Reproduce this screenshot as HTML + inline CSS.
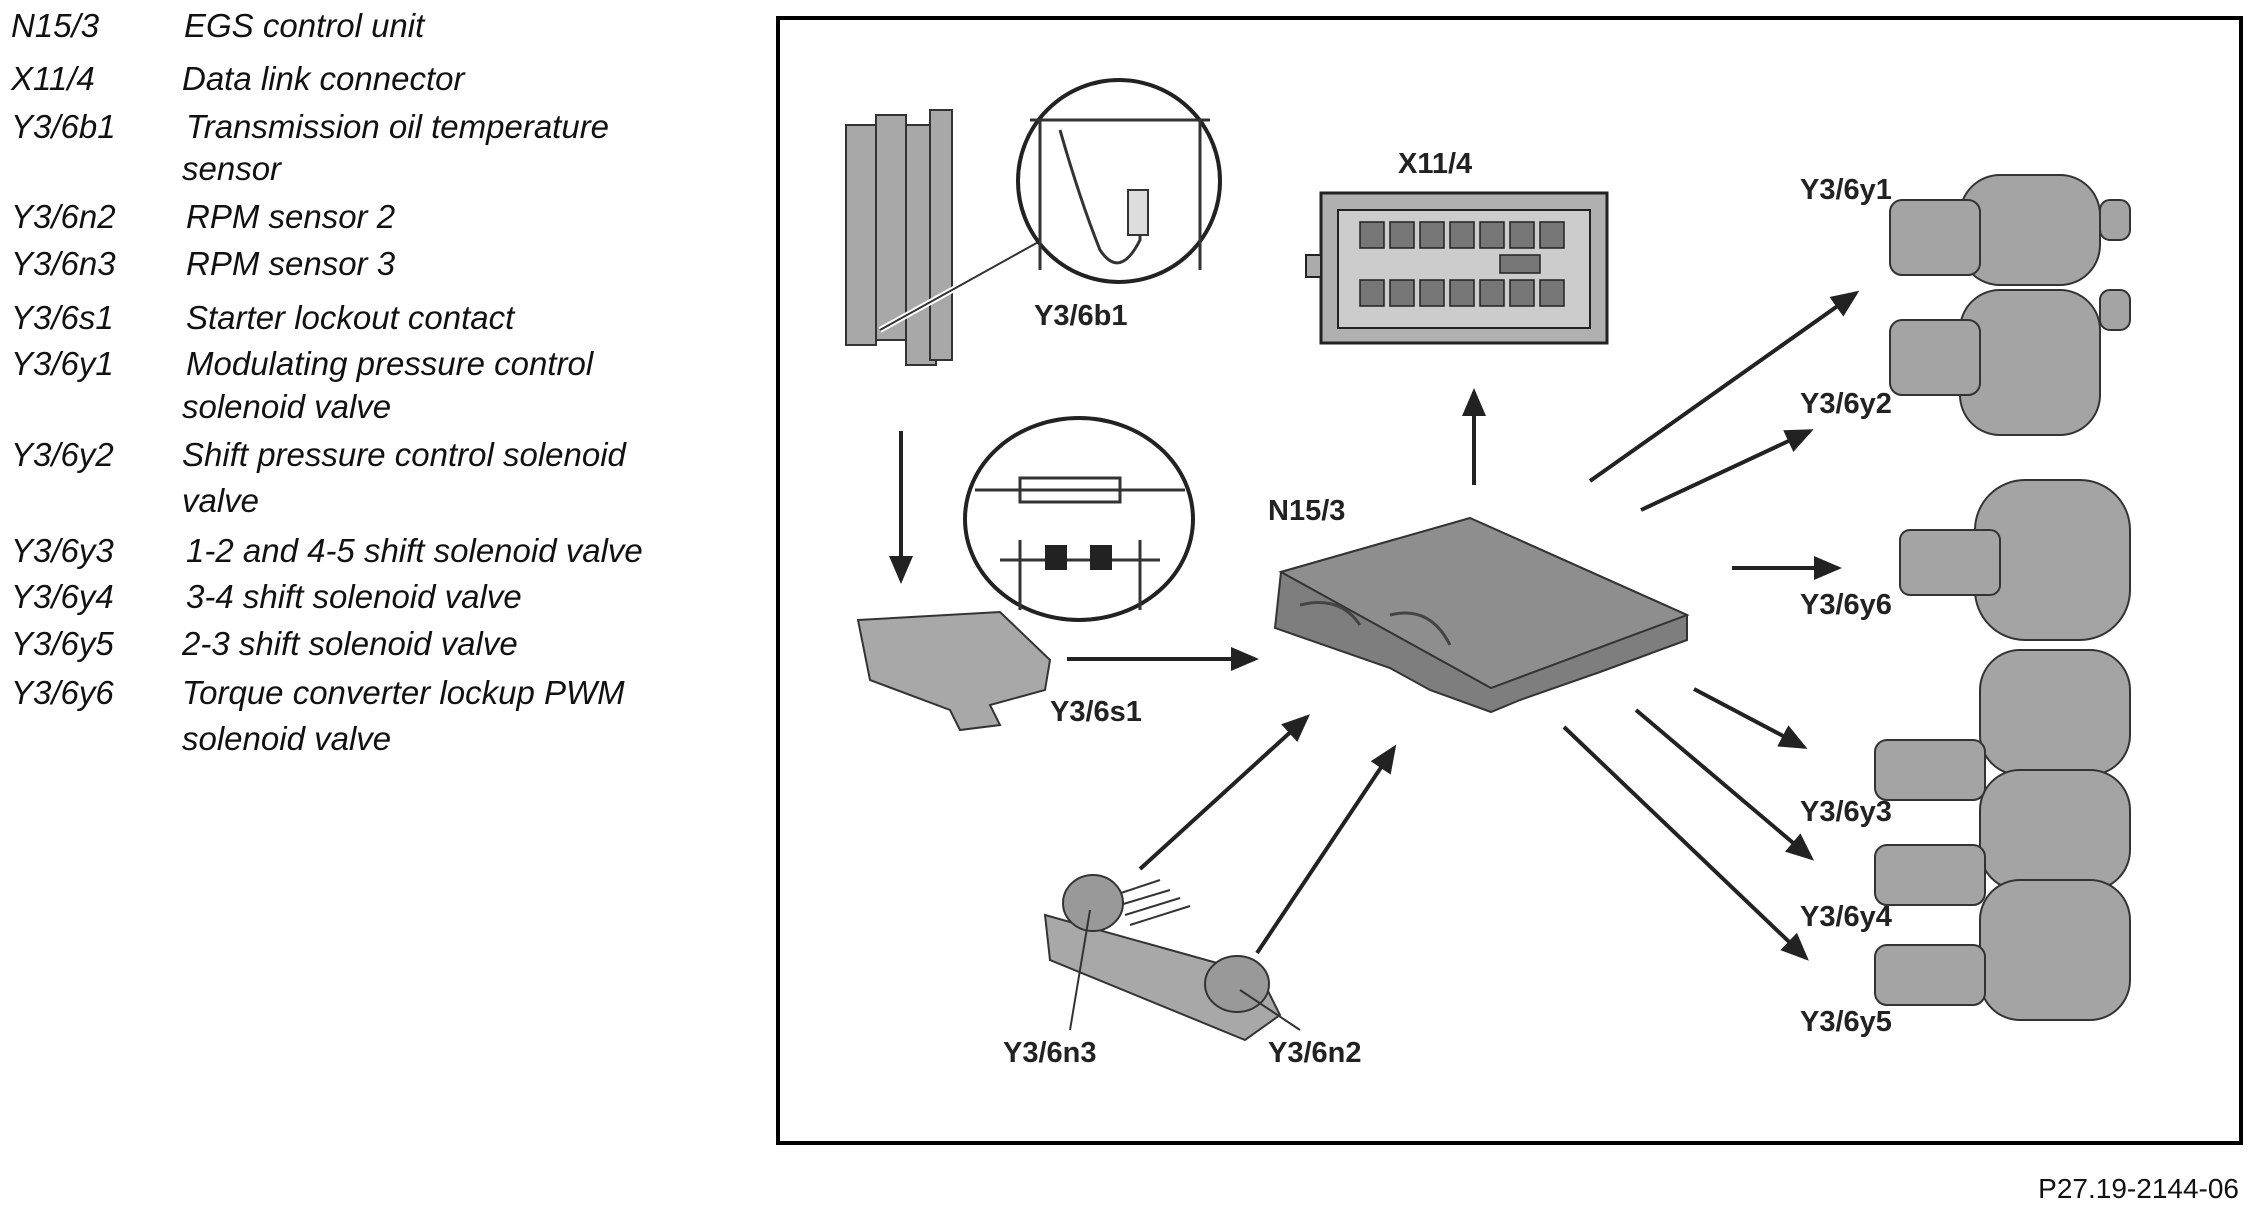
<!DOCTYPE html>
<html><head><meta charset="utf-8"><style>
html,body{margin:0;padding:0;background:#fff}
body{width:2259px;height:1203px;position:relative;overflow:hidden;font-family:"Liberation Sans",Arial,sans-serif}
.l{position:absolute;font-style:italic;font-size:33px;color:#111;white-space:nowrap;line-height:1}
</style></head><body>
<div class="l" style="left:11px;top:9px">N15/3</div><div class="l" style="left:184px;top:9px">EGS control unit</div>
<div class="l" style="left:11px;top:62px">X11/4</div><div class="l" style="left:182px;top:62px">Data link connector</div>
<div class="l" style="left:11px;top:110px">Y3/6b1</div><div class="l" style="left:186px;top:110px">Transmission oil temperature</div>
<div class="l" style="left:182px;top:152px">sensor</div>
<div class="l" style="left:11px;top:200px">Y3/6n2</div><div class="l" style="left:186px;top:200px">RPM sensor 2</div>
<div class="l" style="left:11px;top:247px">Y3/6n3</div><div class="l" style="left:186px;top:247px">RPM sensor 3</div>
<div class="l" style="left:11px;top:301px">Y3/6s1</div><div class="l" style="left:186px;top:301px">Starter lockout contact</div>
<div class="l" style="left:11px;top:347px">Y3/6y1</div><div class="l" style="left:186px;top:347px">Modulating pressure control</div>
<div class="l" style="left:182px;top:390px">solenoid valve</div>
<div class="l" style="left:11px;top:438px">Y3/6y2</div><div class="l" style="left:182px;top:438px">Shift pressure control solenoid</div>
<div class="l" style="left:182px;top:484px">valve</div>
<div class="l" style="left:11px;top:534px">Y3/6y3</div><div class="l" style="left:186px;top:534px">1-2 and 4-5 shift solenoid valve</div>
<div class="l" style="left:11px;top:580px">Y3/6y4</div><div class="l" style="left:186px;top:580px">3-4 shift solenoid valve</div>
<div class="l" style="left:11px;top:627px">Y3/6y5</div><div class="l" style="left:182px;top:627px">2-3 shift solenoid valve</div>
<div class="l" style="left:11px;top:676px">Y3/6y6</div><div class="l" style="left:182px;top:676px">Torque converter lockup PWM</div>
<div class="l" style="left:182px;top:722px">solenoid valve</div>
<div style="position:absolute;right:20px;top:1173px;font-size:28px;color:#111">P27.19-2144-06</div>

<svg width="2259" height="1203" style="position:absolute;left:0;top:0" xmlns="http://www.w3.org/2000/svg">
<defs><marker id="a" markerWidth="8" markerHeight="8" refX="6" refY="4" orient="auto" markerUnits="strokeWidth"><path d="M0,1 L7,4 L0,7 Z" fill="#222"/></marker></defs>
<rect x="778" y="18" width="1463" height="1125" fill="none" stroke="#000" stroke-width="4"/>
<g stroke="#222" stroke-width="4" fill="none" marker-end="url(#a)">
<line x1="901" y1="431" x2="901" y2="580"/>
<line x1="1067" y1="659" x2="1255" y2="659"/>
<line x1="1474" y1="485" x2="1474" y2="392"/>
<line x1="1590" y1="481" x2="1856" y2="293"/>
<line x1="1641" y1="510" x2="1810" y2="431"/>
<line x1="1732" y1="568" x2="1838" y2="568"/>
<line x1="1694" y1="689" x2="1804" y2="747"/>
<line x1="1636" y1="710" x2="1811" y2="858"/>
<line x1="1564" y1="727" x2="1806" y2="958"/>
<line x1="1140" y1="869" x2="1307" y2="717"/>
<line x1="1257" y1="953" x2="1394" y2="748"/>
</g>
<g stroke="#333" stroke-width="2" fill="#a8a8a8">
<rect x="846" y="125" width="30" height="220"/><rect x="876" y="115" width="30" height="225"/>
<rect x="906" y="125" width="30" height="240"/><rect x="930" y="110" width="22" height="250"/>
</g>
<line x1="880" y1="330" x2="1060" y2="230" stroke="#fff" stroke-width="6"/>
<line x1="880" y1="330" x2="1060" y2="230" stroke="#333" stroke-width="2"/>
<circle cx="1119" cy="181" r="101" fill="#fff" stroke="#222" stroke-width="4"/>
<path d="M1030 120 H1210 M1040 120 V270 M1200 120 V270 M1060 130 Q1080 200 1100 250 Q1120 280 1140 240 V200" stroke="#333" stroke-width="3" fill="none"/>
<rect x="1128" y="190" width="20" height="45" fill="#ddd" stroke="#333" stroke-width="2"/>
<ellipse cx="1079" cy="519" rx="114" ry="101" fill="#fff" stroke="#222" stroke-width="4"/>
<path d="M975 490 H1185 M1020 478 H1120 V502 H1020 Z M1020 540 V610 M1140 540 V610 M1000 560 H1160" stroke="#333" stroke-width="3" fill="none"/>
<rect x="1045" y="545" width="22" height="25" fill="#222"/><rect x="1090" y="545" width="22" height="25" fill="#222"/>
<path d="M858 620 L1000 612 L1050 660 L1045 690 L990 705 L1000 725 L960 730 L950 710 L870 680 Z" fill="#a8a8a8" stroke="#333" stroke-width="2"/>
<rect x="1321" y="193" width="286" height="150" fill="#b0b0b0" stroke="#222" stroke-width="3"/>
<rect x="1338" y="210" width="252" height="118" fill="#ccc" stroke="#222" stroke-width="2"/>
<g fill="#777" stroke="#222" stroke-width="1.5">
<rect x="1360" y="222" width="24" height="26"/><rect x="1390" y="222" width="24" height="26"/><rect x="1420" y="222" width="24" height="26"/><rect x="1450" y="222" width="24" height="26"/><rect x="1480" y="222" width="24" height="26"/><rect x="1510" y="222" width="24" height="26"/><rect x="1540" y="222" width="24" height="26"/>
<rect x="1360" y="280" width="24" height="26"/><rect x="1390" y="280" width="24" height="26"/><rect x="1420" y="280" width="24" height="26"/><rect x="1450" y="280" width="24" height="26"/><rect x="1480" y="280" width="24" height="26"/><rect x="1510" y="280" width="24" height="26"/><rect x="1540" y="280" width="24" height="26"/>
<rect x="1500" y="255" width="40" height="18"/></g>
<rect x="1306" y="255" width="15" height="22" fill="#aaa" stroke="#222" stroke-width="2"/>
<path d="M1281 572 L1470 518 L1687 615 L1687 640 L1600 672 L1520 700 L1491 712 L1430 690 L1390 668 L1275 628 Z" fill="#7e7e7e" stroke="#333" stroke-width="2"/>
<path d="M1281 572 L1470 518 L1687 615 L1491 688 Z" fill="#8e8e8e" stroke="#333" stroke-width="2"/>
<path d="M1300 605 Q1340 595 1360 625 M1390 615 Q1430 605 1450 645" stroke="#444" stroke-width="3" fill="none"/>
<path d="M1045 915 L1260 975 L1280 1015 L1245 1040 L1050 960 Z" fill="#a8a8a8" stroke="#333" stroke-width="2"/>
<g stroke="#333" stroke-width="2"><line x1="1115" y1="895" x2="1160" y2="880"/><line x1="1120" y1="905" x2="1170" y2="890"/><line x1="1125" y1="915" x2="1180" y2="898"/><line x1="1130" y1="925" x2="1190" y2="906"/></g>
<ellipse cx="1093" cy="903" rx="30" ry="28" fill="#999" stroke="#333" stroke-width="2"/>
<ellipse cx="1237" cy="984" rx="32" ry="28" fill="#999" stroke="#333" stroke-width="2"/>
<line x1="1070" y1="1030" x2="1090" y2="910" stroke="#333" stroke-width="2"/>
<line x1="1300" y1="1030" x2="1240" y2="990" stroke="#333" stroke-width="2"/>
<g fill="#a4a4a4" stroke="#333" stroke-width="2">
<rect x="1960" y="175" width="140" height="110" rx="40"/><rect x="1890" y="200" width="90" height="75" rx="12"/><rect x="2100" y="200" width="30" height="40" rx="10"/>
<rect x="1960" y="290" width="140" height="145" rx="40"/><rect x="1890" y="320" width="90" height="75" rx="12"/><rect x="2100" y="290" width="30" height="40" rx="10"/>
<rect x="1975" y="480" width="155" height="160" rx="50"/><rect x="1900" y="530" width="100" height="65" rx="10"/>
<rect x="1980" y="650" width="150" height="125" rx="40"/><rect x="1980" y="770" width="150" height="120" rx="40"/><rect x="1980" y="880" width="150" height="140" rx="40"/>
<rect x="1875" y="740" width="110" height="60" rx="12"/><rect x="1875" y="845" width="110" height="60" rx="12"/><rect x="1875" y="945" width="110" height="60" rx="12"/>
</g>
</svg>
<div style="position:absolute;font:bold 29px 'Liberation Sans',sans-serif;color:#222;line-height:1">
<div style="position:absolute;left:1398px;top:150px">X11/4</div>
<div style="position:absolute;left:1034px;top:302px">Y3/6b1</div>
<div style="position:absolute;left:1268px;top:497px">N15/3</div>
<div style="position:absolute;left:1050px;top:698px">Y3/6s1</div>
<div style="position:absolute;left:1003px;top:1039px">Y3/6n3</div>
<div style="position:absolute;left:1268px;top:1039px">Y3/6n2</div>
<div style="position:absolute;left:1800px;top:176px">Y3/6y1</div>
<div style="position:absolute;left:1800px;top:390px">Y3/6y2</div>
<div style="position:absolute;left:1800px;top:591px">Y3/6y6</div>
<div style="position:absolute;left:1800px;top:798px">Y3/6y3</div>
<div style="position:absolute;left:1800px;top:903px">Y3/6y4</div>
<div style="position:absolute;left:1800px;top:1008px">Y3/6y5</div>
</div>
</body></html>
